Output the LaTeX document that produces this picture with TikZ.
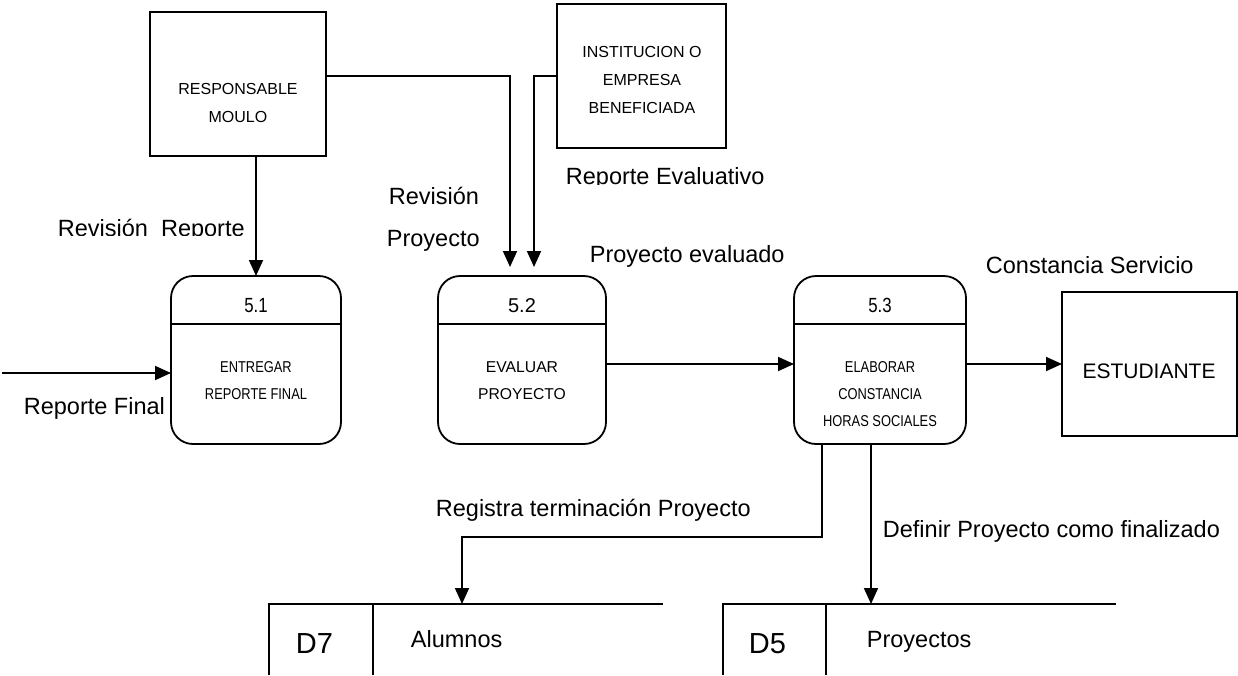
\documentclass[tikz,border=0pt]{standalone}
\usepackage{fontspec}
\setmainfont{Liberation Sans}
\newfontfamily\narrowfont[FakeStretch=0.82]{Liberation Sans}
\usetikzlibrary{arrows.meta}

\begin{document}
\begin{tikzpicture}[x=1pt,y=-1pt,
  line width=1.8pt,
  entity/.style={draw, rectangle, inner sep=0pt, outer sep=0pt, minimum height=144pt},
  proc/.style={draw, rectangle, rounded corners=22pt, inner sep=0pt, outer sep=0pt,
               minimum height=168pt},
  flow/.style={-{Triangle[length=16pt,width=14pt]}},
  lbl/.style={anchor=base west, inner sep=0pt, font=\fontsize{23.5}{28}\selectfont},
  small/.style={anchor=base, inner sep=0pt, font=\fontsize{16}{19}\selectfont},
  pnum/.style={anchor=base, inner sep=0pt, font=\narrowfont\fontsize{20.5}{24}\selectfont},
  ptxt/.style={anchor=base, inner sep=0pt, font=\narrowfont\fontsize{15.7}{19}\selectfont},
  store/.style={anchor=base west, inner sep=0pt, font=\fontsize{29}{34}\selectfont}]

\useasboundingbox (0,0) rectangle (1238,675);

% external entities
\node[entity, minimum width=176pt] (resp) at (238,84) {};
\node[small] (resp1) at (238,94) {RESPONSABLE};
\node[small] (resp2) at (238,122) {MOULO};

\node[entity, minimum width=169pt] (inst) at (641.5,76) {};
\node[small] (inst1) at (642,57) {INSTITUCION O};
\node[small] (inst2) at (642,85) {EMPRESA};
\node[small] (inst3) at (642,113) {BENEFICIADA};

\node[entity, minimum width=175pt] (est) at (1149.5,364) {};
\node[anchor=base, inner sep=0pt, font=\fontsize{21}{25}\selectfont] (estt) at (1149,378) {ESTUDIANTE};

% processes
\node[proc, minimum width=170pt] (p1) at (256,360) {};
\draw (p1.west |- 0,324) -- (p1.east |- 0,324);
\node[pnum] (p1n) at (256,312) {5.1};
\node[ptxt] (p1a) at (256,372) {ENTREGAR};
\node[ptxt] (p1b) at (256,399) {REPORTE FINAL};

\node[proc, minimum width=168pt] (p2) at (522,360) {};
\draw (p2.west |- 0,324) -- (p2.east |- 0,324);
\node[anchor=base, inner sep=0pt, font=\fontsize{20}{24}\selectfont] (p2n) at (522,312) {5.2};
\node[anchor=base, inner sep=0pt, font=\fontsize{15.7}{19}\selectfont] (p2a) at (522,372) {EVALUAR};
\node[anchor=base, inner sep=0pt, font=\fontsize{15.7}{19}\selectfont] (p2b) at (522,399) {PROYECTO};

\node[proc, minimum width=172pt] (p3) at (880,360) {};
\draw (p3.west |- 0,324) -- (p3.east |- 0,324);
\node[pnum] (p3n) at (880,312) {5.3};
\node[ptxt] (p3a) at (880,372) {ELABORAR};
\node[ptxt] (p3b) at (880,399) {CONSTANCIA};
\node[ptxt] (p3c) at (880,426) {HORAS SOCIALES};

% data stores
\draw (663,604) -- (269,604) -- (269,675);
\draw (373,604) -- (373,675);
\node[store] (d7) at (295,653) {D7};
\node[lbl] (d7t) at (410,647) {Alumnos};
\coordinate (d7in) at (462,604);

\draw (1116,604) -- (723,604) -- (723,675);
\draw (826,604) -- (826,675);
\node[store] (d5) at (748,653) {D5};
\node[lbl] (d5t) at (866,647) {Proyectos};
\coordinate (d5in) at (871,604);

% flows
\coordinate (src) at (2,373);
\draw[flow] (src) -- (src -| p1.west);
\node[lbl] (lrf) at (23,414) {Reporte Final};

\draw[flow] (p1.north |- resp.south) -- (p1.north);
\begin{scope}
  \clip (0,0) rectangle (1238,235);
  \node[lbl] (lrr) at (57,236) {Revisión\ \ Reporte};
\end{scope}

\coordinate (tipa) at (510,267);
\coordinate (tipb) at (534,267);
\draw[flow] ([yshift=8pt]resp.east) -| (tipa);
\draw[flow] (inst.west) -| (tipb);
\node[lbl] (lrp1) at (388,204) {Revisión};
\node[lbl] (lrp2) at (386,246) {Proyecto};
\begin{scope}
  \clip (0,0) rectangle (1238,184);
  \node[lbl] (lre) at (565,184) {Reporte Evaluativo};
\end{scope}

\coordinate (fy) at (0,364);
\draw[flow] (p2.east |- fy) -- (p3.west |- fy);
\node[lbl] (lpe) at (589,262) {Proyecto evaluado};

\draw[flow] (p3.east |- fy) -- (est.west |- fy);
\node[lbl] (lcs) at (985,273) {Constancia Servicio};

\coordinate (jn) at (822,537);
\draw[flow] (jn |- p3.south) -- (jn) -| (d7in);
\node[lbl] (lrt) at (435,516) {Registra terminación Proyecto};

\draw[flow] (d5in |- p3.south) -- (d5in);
\node[lbl] (ldp) at (882,537) {Definir Proyecto como finalizado};

\end{tikzpicture}
\end{document}
